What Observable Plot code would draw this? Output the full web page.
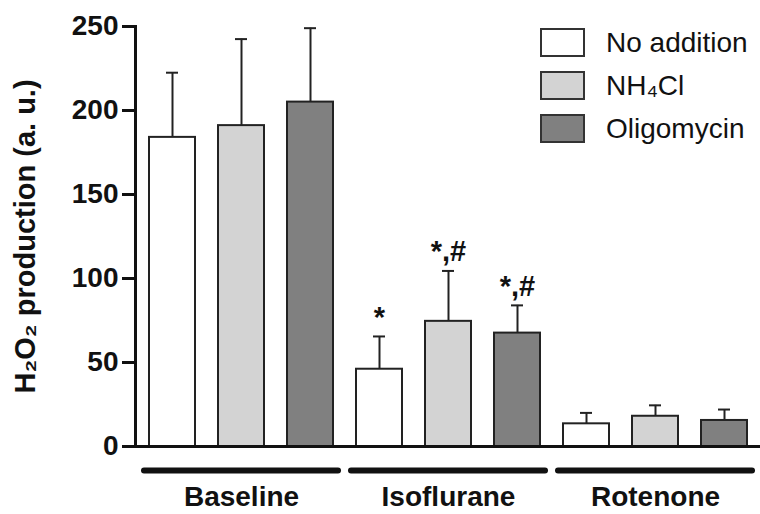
<!DOCTYPE html>
<html><head><meta charset="utf-8">
<script src="https://cdn.jsdelivr.net/npm/d3@7"></script>
<script src="https://cdn.jsdelivr.net/npm/@observablehq/plot@0.6"></script>
<style>
body{margin:0;background:#fff;}
#wrap{position:relative;width:760px;height:514px;font-family:"Liberation Sans",Arial,sans-serif;}
#legend{position:absolute;left:540px;top:28px;}
.item{display:flex;align-items:center;height:29px;margin-bottom:14px;}
.sw{width:41px;height:25px;border:2px solid #333;}
.lbl{margin-left:21px;font-size:28px;color:#111;line-height:29px;}
</style></head><body><div id="wrap"></div>
<script>
const groups = ["Baseline", "Isoflurane", "Rotenone"];
const conditions = ["No addition", "NH₄Cl", "Oligomycin"];
const colors = ["#ffffff", "#d3d3d3", "#808080"];
const noAddition = [184, 46, 13.5];
const nh4cl = [191, 74.5, 18];
const oligomycin = [205, 67.5, 15.5];
const errNoAddition = [38.5, 19.5, 6.5];
const errNH4Cl = [51.5, 30, 6.5];
const errOligomycin = [44, 16.5, 6.5];
const notesNoAddition = ["", "*", ""];
const notesNH4Cl = ["", "*,#", ""];
const notesOligomycin = ["", "*,#", ""];
const yTicks = [0, 50, 100, 150, 200, 250];
const yLabel = "H₂O₂ production (a. u.)";

const values = [noAddition, nh4cl, oligomycin];
const errors = [errNoAddition, errNH4Cl, errOligomycin];
const notes = [notesNoAddition, notesNH4Cl, notesOligomycin];

const rows = [];
groups.forEach((g, i) => conditions.forEach((c, j) => rows.push({
  key: g + "|" + c, group: g, condition: c,
  value: values[j][i], top: values[j][i] + errors[j][i], note: notes[j][i]
})));
const keys = rows.map(d => d.key);
const spans = groups.map(g => ({
  group: g,
  first: g + "|" + conditions[0],
  mid: g + "|" + conditions[1],
  last: g + "|" + conditions[2]
}));

const plot = Plot.plot({
  width: 760, height: 514,
  marginLeft: 135, marginRight: 0, marginTop: 26, marginBottom: 68,
  style: {fontFamily: "'Liberation Sans', Arial, sans-serif", fontSize: "28px", fontWeight: "bold", color: "#111", background: "#fff", overflow: "visible"},
  x: {domain: keys, paddingInner: 0.34, paddingOuter: 0.16, axis: null},
  y: {domain: [0, 250], axis: null},
  color: {domain: conditions, range: colors},
  marks: [
    Plot.barY(rows, {x: "key", y: "value", fill: "condition", stroke: "#222", strokeWidth: 2}),
    Plot.ruleX(rows, {x: "key", y1: "value", y2: "top", stroke: "#222", strokeWidth: 2}),
    Plot.tickY(rows, {x: "key", y: "top", stroke: "#222", strokeWidth: 2, insetLeft: 17, insetRight: 17}),
    Plot.text(rows.filter(d => d.note), {x: "key", y: "top", text: "note", dy: -19, fontSize: 29, fill: "#111"}),
    Plot.axisY({ticks: yTicks, tickSize: 13, tickPadding: 4, strokeWidth: 3, label: null, fontSize: 28, fontWeight: "bold"}),
    Plot.frame({anchor: "left", strokeWidth: 3}),
    Plot.ruleY([0], {strokeWidth: 3}),
    Plot.ruleY(spans, {x1: "first", x2: "last", y: 0, dy: 24, strokeWidth: 6, strokeLinecap: "round", insetLeft: -5, insetRight: -5}),
    Plot.text(spans, {x: "mid", y: 0, text: "group", dy: 51, fill: "#111"}),
    Plot.text([yLabel], {frameAnchor: "left", textAnchor: "middle", rotate: -90, dx: -110, fontSize: 29, fill: "#111"})
  ]
});

const wrap = document.getElementById("wrap");
wrap.appendChild(plot);
const legend = document.createElement("div");
legend.id = "legend";
conditions.forEach((c, j) => {
  const item = document.createElement("div");
  item.className = "item";
  const sw = document.createElement("div");
  sw.className = "sw";
  sw.style.background = colors[j];
  const lbl = document.createElement("span");
  lbl.className = "lbl";
  lbl.textContent = c;
  item.appendChild(sw); item.appendChild(lbl);
  legend.appendChild(item);
});
wrap.appendChild(legend);
</script></body></html>
